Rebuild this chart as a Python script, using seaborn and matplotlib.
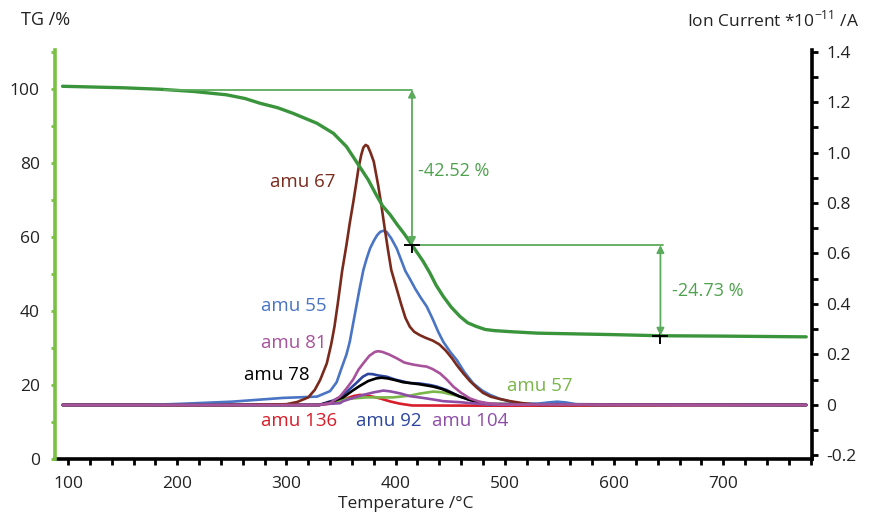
import matplotlib
matplotlib.use("Agg")
import matplotlib.pyplot as plt
import seaborn as sns
from matplotlib.ticker import MultipleLocator, FuncFormatter

# ---------------- data ----------------
T_tg = [95, 150, 184, 215, 245, 262, 276, 292, 306, 328, 343, 355, 367, 375, 382, 388, 395, 401, 408, 415, 425, 431.5, 437, 443.7, 451, 459, 466, 474, 482, 490, 505, 530, 600, 642, 700, 776]
tg = [100.7, 100.3, 99.9, 99.3, 98.4, 97.4, 96.1, 94.9, 93.4, 90.7, 88.0, 84.4, 79.0, 75.4, 71.5, 68.4, 66.0, 63.5, 60.8, 57.8, 53.5, 50.2, 47.0, 43.9, 41.0, 38.5, 36.8, 35.8, 35.0, 34.7, 34.4, 34.0, 33.6, 33.3, 33.2, 33.0]

T67 = [95, 250, 300, 310, 320, 326, 331, 337, 341, 344, 347, 351, 355, 358, 361.3, 364, 366, 368.5, 370.5, 372.6, 374.5, 377, 380, 384, 387, 390, 393, 396, 401, 405, 409, 413, 417, 422, 428, 434, 440, 446, 452, 456, 462, 468, 474, 480, 487, 495, 505, 515, 530, 600, 776]
I67 = [0, 0, 0.003, 0.012, 0.03, 0.06, 0.10, 0.165, 0.24, 0.31, 0.40, 0.53, 0.634, 0.72, 0.805, 0.88, 0.937, 0.99, 1.02, 1.03, 1.025, 1.0, 0.964, 0.871, 0.79, 0.70, 0.615, 0.535, 0.46, 0.40, 0.345, 0.31, 0.29, 0.277, 0.265, 0.255, 0.24, 0.215, 0.183, 0.158, 0.125, 0.095, 0.07, 0.048, 0.033, 0.024, 0.015, 0.008, 0.0, 0.0, 0.0]

T55 = [95, 170, 200, 250, 297, 328, 340, 346, 350, 355, 358, 361, 364, 367, 370.5, 373.5, 376.6, 380, 383, 386, 389, 392, 396, 401, 405, 409, 413, 418, 423, 428.5, 434, 439, 443.7, 450, 456, 463, 471, 479, 486.5, 495, 505, 515, 530, 540, 548, 556, 565, 580, 776]
I55 = [0, 0, 0.004, 0.013, 0.028, 0.033, 0.055, 0.09, 0.14, 0.2, 0.25, 0.32, 0.39, 0.46, 0.535, 0.58, 0.62, 0.65, 0.672, 0.686, 0.69, 0.684, 0.66, 0.62, 0.575, 0.53, 0.5, 0.46, 0.425, 0.39, 0.34, 0.29, 0.25, 0.21, 0.178, 0.13, 0.086, 0.058, 0.04, 0.025, 0.013, 0.005, 0.005, 0.01, 0.013, 0.01, 0.003, 0.0, 0.0]

T81 = [95, 330, 340, 349, 355, 361, 366, 370.4, 376, 381, 384, 388, 394, 401, 408, 416, 423, 428.5, 434, 440.7, 447, 452.8, 460, 468, 476, 483, 495, 776]
I81 = [0, 0, 0.008, 0.033, 0.065, 0.10, 0.14, 0.165, 0.195, 0.21, 0.213, 0.21, 0.2, 0.185, 0.168, 0.16, 0.155, 0.152, 0.142, 0.125, 0.10, 0.073, 0.048, 0.026, 0.014, 0.008, 0.002, 0]

T78 = [95, 330, 337, 343, 352, 360, 367, 375, 382, 387, 393, 400, 407, 413, 422, 434, 442, 450, 459, 468, 477, 486, 776]
I78 = [0, 0, 0.008, 0.015, 0.03, 0.055, 0.075, 0.095, 0.105, 0.108, 0.105, 0.098, 0.09, 0.087, 0.082, 0.073, 0.064, 0.05, 0.033, 0.02, 0.01, 0.004, 0]

T92 = [95, 330, 337, 343, 349, 356, 364, 370, 374.7, 379, 384, 391.8, 400, 413, 422, 431.5, 437.6, 446.8, 452.8, 459, 468, 477, 486, 776]
I92 = [0, 0, 0.01, 0.018, 0.03, 0.055, 0.087, 0.112, 0.123, 0.122, 0.117, 0.112, 0.1, 0.087, 0.085, 0.079, 0.073, 0.059, 0.046, 0.033, 0.02, 0.01, 0.003, 0]

T57 = [95, 330, 343, 355, 373.5, 397.7, 413, 422, 434.5, 443, 452.8, 465, 474, 483, 776]
I57 = [0, 0, 0.01, 0.024, 0.03, 0.03, 0.037, 0.045, 0.053, 0.05, 0.04, 0.026, 0.013, 0.003, 0]

T136 = [95, 330, 343, 355, 362, 367.4, 373, 380, 385.7, 395, 404, 415, 500, 600, 776]
I136 = [0, 0, 0.007, 0.026, 0.036, 0.04, 0.038, 0.032, 0.026, 0.014, 0.005, -0.002, -0.003, -0.002, 0]

T104 = [95, 330, 337, 349, 352, 361, 370.4, 380, 388.7, 395, 405, 413, 425, 434, 443.7, 459, 477, 490, 776]
I104 = [0, 0, 0.004, 0.007, 0.015, 0.028, 0.04, 0.05, 0.057, 0.054, 0.045, 0.035, 0.028, 0.022, 0.015, 0.011, 0.004, 0.001, 0]

# mass number labels
ion_labels = ["amu 67", "amu 55", "amu 81", "amu 78", "amu 136", "amu 92", "amu 104", "amu 57"]
ion_label_x = [315, 307, 307, 291, 311.5, 394, 468.6, 532]
ion_label_y = [0.885, 0.392, 0.246, 0.119, -0.062, -0.062, -0.062, 0.075]

# TG step evaluation
step_T = [415, 642.5]
step_levels = [99.8, 57.8, 33.3]
step_texts = ["-42.52 %", "-24.73 %"]

# ---------------- style ----------------
sns.set_theme(style="white")
plt.rcParams["font.family"] = ["Open Sans", "DejaVu Sans"]
plt.rcParams["mathtext.fontset"] = "custom"
plt.rcParams["mathtext.rm"] = "Open Sans"
plt.rcParams["lines.solid_joinstyle"] = "round"
plt.rcParams["lines.solid_capstyle"] = "round"

c67 = "#7a2a1c"
c55 = "#4a74c4"
c81 = "#a8529c"
c78 = "#000000"
c92 = "#2c469e"
c57 = "#7ab648"
c136 = "#d81e2a"
c104 = "#8e4ea6"
c_tg = "#3a943c"
c_ann = "#5cab5c"
c_ann_text = "#4ea24e"
c_left = "#7ac143"
txt = "#222222"

fig = plt.figure(figsize=(8.72, 5.13), dpi=100)
fig.subplots_adjust(left=55/872, right=812/872, bottom=(513-459)/513, top=(513-50)/513)
ax = fig.add_subplot(111)
ax_tg = ax.twinx()

series = [(T136, I136, c136), (T57, I57, c57), (T92, I92, c92), (T78, I78, c78),
          (T104, I104, c104), (T55, I55, c55), (T67, I67, c67), (T81, I81, c81)]
for T, I, c in series:
    sns.lineplot(x=T, y=I, ax=ax, color=c, linewidth=1.9, estimator=None)

ax.set_xlim(88.1, 781.3)
ax.set_ylim(-0.214, 1.406)
ax.yaxis.tick_right()
ax.yaxis.set_label_position("right")
ax.set_ylabel("")
ax.set_xlabel("")
ax.yaxis.set_major_locator(MultipleLocator(0.2))
ax.yaxis.set_minor_locator(MultipleLocator(0.1))
ax.xaxis.set_major_locator(MultipleLocator(100))
ax.xaxis.set_minor_locator(MultipleLocator(20))
ax.set_xticks([100, 200, 300, 400, 500, 600, 700])
ax.yaxis.set_major_formatter(FuncFormatter(lambda v, p: "0" if abs(v) < 1e-9 else f"{v:.1f}"))
for s in ["left", "top"]:
    ax.spines[s].set_visible(False)
for s in ["bottom", "right"]:
    ax.spines[s].set_color("black")
    ax.spines[s].set_linewidth(2.6)
ax.tick_params(axis="x", which="both", direction="out", length=4.5, width=2, color="black",
               labelsize=12.5, labelcolor=txt, pad=8, bottom=True)
ax.tick_params(axis="y", which="both", direction="out", length=4.5, width=2, color="black",
               labelsize=12.5, labelcolor=txt, pad=6, right=True, left=False)

for lab, x, y, c in zip(ion_labels, ion_label_x, ion_label_y,
                        [c67, c55, c81, c78, c136, c92, c104, c57]):
    ax.text(x, y, lab, color=c, fontsize=13.5, ha="center", va="center")

sns.lineplot(x=T_tg, y=tg, ax=ax_tg, color=c_tg, linewidth=2.4, estimator=None)
ax_tg.set_ylim(0, 110.5)
ax_tg.yaxis.tick_left()
ax_tg.yaxis.set_label_position("left")
ax_tg.set_ylabel("")
ax_tg.yaxis.set_major_locator(MultipleLocator(20))
ax_tg.yaxis.set_minor_locator(MultipleLocator(10))
for s in ["right", "top", "bottom"]:
    ax_tg.spines[s].set_visible(False)
ax_tg.spines["left"].set_color(c_left)
ax_tg.spines["left"].set_linewidth(2.6)
ax_tg.tick_params(axis="y", which="both", direction="out", length=3, width=2, color=c_left,
                  labelsize=12.5, labelcolor=txt, pad=8, left=True, right=False)

ax_tg.plot([188, step_T[0]], [step_levels[0], step_levels[0]], color=c_ann, lw=1.3)
ax_tg.plot([step_T[0], step_T[1] + 2.5], [step_levels[1], step_levels[1]], color=c_ann, lw=1.3)
for i in range(2):
    ax_tg.annotate("", xy=(step_T[i], step_levels[i]), xytext=(step_T[i], step_levels[i + 1]),
                   arrowprops=dict(arrowstyle="<|-|>", color=c_ann, lw=1.3,
                                   mutation_scale=11, shrinkA=0, shrinkB=0))
    ax_tg.plot(step_T[i], step_levels[i + 1], marker="+", color="black", ms=11, mew=1.4)
ax_tg.text(420.5, 77.8, step_texts[0], color=c_ann_text, fontsize=13, ha="left", va="center")
ax_tg.text(653, 45.4, step_texts[1], color=c_ann_text, fontsize=13, ha="left", va="center")

fig.text(21/872, 1 - 20/513, "TG /%", fontsize=13, color=txt, ha="left", va="center")
fig.text(859/872, 1 - 20/513, r"Ion Current *10$^{\mathregular{-11}}$ /A", fontsize=12.5, color=txt,
         ha="right", va="center")
fig.text(406/872, 1 - 504/513, "Temperature /°C", fontsize=12.5, color=txt, ha="center", va="center")

fig.savefig("out.png", dpi=100)
